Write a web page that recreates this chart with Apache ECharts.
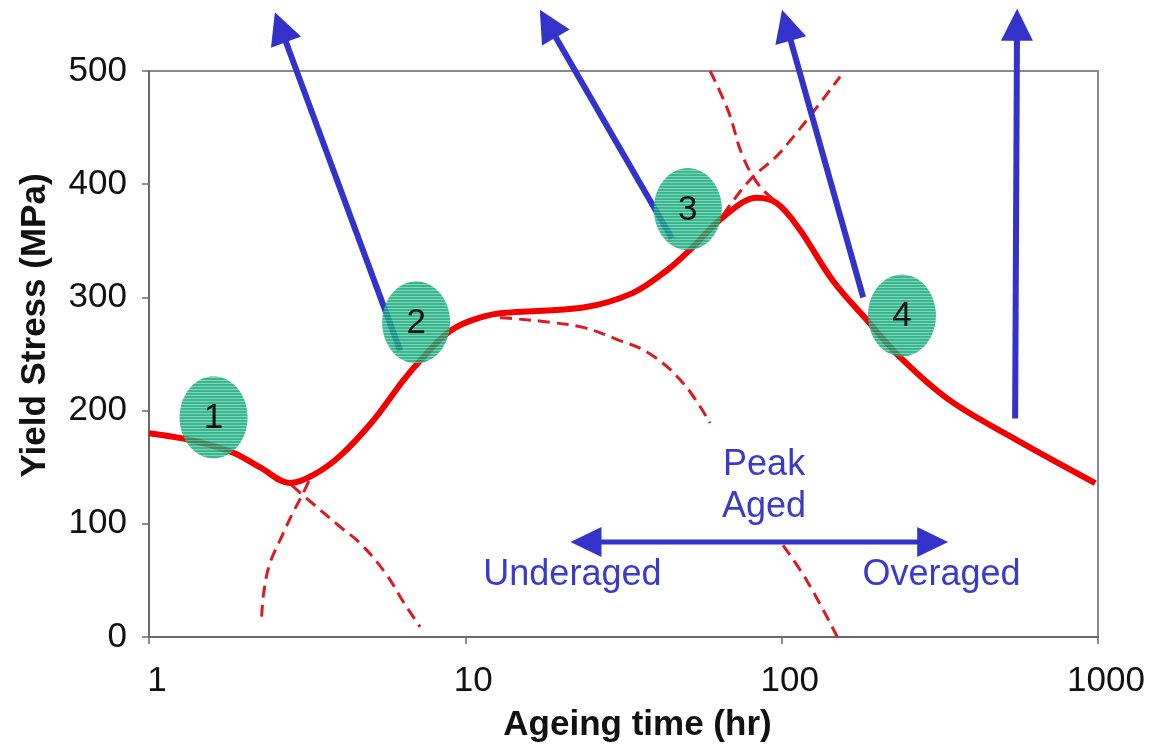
<!DOCTYPE html>
<html><head><meta charset="utf-8">
<script src="https://cdn.jsdelivr.net/npm/echarts@6/dist/echarts.min.js"></script>
<style>html,body{margin:0;padding:0;background:#fff}#c{width:1150px;height:752px}</style>
</head><body><div id="c"></div>
<script>
// ---- data ----
const xTickLabels = ['1', '10', '100', '1000'];
const yTickValues = [0, 100, 200, 300, 400, 500];

const solidX = [1.0, 1.35, 1.84, 2.24, 2.79, 3.30, 4.02, 5.11, 6.34, 7.19, 8.73, 10.3, 12.9, 23.6, 33.9, 43.4, 51.3, 65.3, 83.6, 96.7, 114, 145, 186, 237, 340, 554, 980];
const solidY = [180, 174, 163, 150, 136, 143, 160, 191, 226, 244, 268, 279, 286, 291, 304, 324, 342, 371, 388, 383, 360, 315, 280, 247, 209, 174, 136];

const dashRiseX = [2.27, 2.31, 2.41, 2.60, 2.83, 3.07, 3.27];
const dashRiseY = [18, 41, 65, 86, 108, 127, 143];
const dashFallX = [2.83, 3.15, 4.02, 4.64, 5.56, 6.43, 7.19];
const dashFallY = [134, 122.5, 97.4, 83, 57.4, 29.2, 9];
const dashMidX = [12.87, 14.54, 18.53, 23.55, 30.1, 38.4, 48.9, 59.4];
const dashMidY = [282, 281, 278, 273.5, 263, 250, 224, 189];
const dashUpX = [65.3, 79.5, 98.9, 153];
const dashUpY = [373, 404, 428, 495];
const dashOverTopX = [59.4, 67.7, 75.5, 85.4, 98.9];
const dashOverTopY = [500, 465, 424, 398, 382];
const dashOverLowX = [101, 120, 150];
const dashOverLowY = [81, 50, 0];

const ellipseX = [1.60, 6.99, 50.5, 240];
const ellipseY = [194, 278, 378, 284];
const ellipseLabels = ['1', '2', '3', '4'];

const arrowTailX = [6.22, 45.0, 181, 547];
const arrowTailY = [253, 352, 300, 193];
const arrowTipX = [2.50, 17.2, 100.3, 555];
const arrowTipY = [552, 554, 554, 555];

const rangeArrowX = [21.5, 336];
const rangeArrowY = [84, 84];

const noteTexts = ['Peak\nAged', 'Underaged', 'Overaged'];
const noteX = [88, 21.8, 320];
const noteY = [133, 55, 55];

// ---- helpers ----
const FONT = '"Liberation Sans", Arial, Helvetica, sans-serif';
const zip = (xs, ys) => xs.map((x, i) => [x, ys[i]]);
const BLUE = '#3333cc';

function stripePattern() {
  const c = document.createElement('canvas');
  c.width = 6; c.height = 3;
  const g = c.getContext('2d');
  g.fillStyle = '#0fa878'; g.fillRect(0, 0, 6, 2);
  g.fillStyle = '#62cca8'; g.fillRect(0, 2, 6, 1);
  return c;
}
const PATTERN = { image: stripePattern(), repeat: 'repeat' };

function arrowShapes(p1, p2, L, W, lw, both) {
  const dx = p2[0] - p1[0], dy = p2[1] - p1[1];
  const len = Math.sqrt(dx * dx + dy * dy);
  const ux = dx / len, uy = dy / len, px = -uy, py = ux;
  const head = (tip, sx) => {
    const bx = tip[0] - sx * ux * L, by = tip[1] - sx * uy * L;
    return { type: 'polygon', shape: { points: [[tip[0], tip[1]], [bx + px * W, by + py * W], [bx - px * W, by - py * W]] }, style: { fill: BLUE } };
  };
  const s = both ? [p1[0] + ux * (L - 2), p1[1] + uy * (L - 2)] : p1;
  const e = [p2[0] - ux * (L - 2), p2[1] - uy * (L - 2)];
  const kids = [{ type: 'line', shape: { x1: s[0], y1: s[1], x2: e[0], y2: e[1] }, style: { stroke: BLUE, lineWidth: lw } }, head(p2, 1)];
  if (both) kids.push(head(p1, -1));
  return { type: 'group', children: kids };
}

function ellipseShape(c, rx, ry, label) {
  const pts = [];
  for (let k = 0; k < 72; k++) {
    const a = k / 72 * Math.PI * 2;
    pts.push([c[0] + rx * Math.cos(a), c[1] + ry * Math.sin(a)]);
  }
  return { type: 'group', children: [
    { type: 'polygon', shape: { points: pts }, style: { fill: PATTERN, opacity: 0.82 } },
    { type: 'text', x: c[0], y: c[1] + 1, style: { text: label, fill: '#111', fontSize: 35, fontFamily: FONT, align: 'center', verticalAlign: 'middle' } }
  ] };
}

const dashStyle = { color: '#dd1a24', width: 3, type: [12, 7] };
function dashSeries(xs, ys) {
  return { type: 'line', data: zip(xs, ys), smooth: 0.4, showSymbol: false, symbol: 'none', z: 2, lineStyle: dashStyle, silent: true };
}

const chart = echarts.init(document.getElementById('c'));
chart.setOption({
  animation: false,
  backgroundColor: '#fff',
  grid: { left: 149, right: 52, top: 71, bottom: 115, show: true, borderColor: '#8a8a8a', borderWidth: 2 },
  xAxis: {
    type: 'log', logBase: 10, min: 1, max: 1000,
    name: 'Ageing time (hr)', nameLocation: 'middle', nameGap: 71,
    nameTextStyle: { fontSize: 35, fontWeight: 'bold', color: '#111', fontFamily: FONT, padding: [0, 0, 0, 28] },
    axisLine: { show: true, lineStyle: { color: '#6a6a6a', width: 2 } },
    axisTick: { show: true, length: 7, lineStyle: { color: '#6a6a6a', width: 1.5 } },
    minorTick: { show: false }, splitLine: { show: false }, minorSplitLine: { show: false },
    axisLabel: { fontSize: 35, color: '#111', fontFamily: FONT, margin: 27, padding: [0, 0, 0, 16],
      formatter: v => xTickLabels[Math.round(Math.log10(v))] }
  },
  yAxis: {
    type: 'value', min: yTickValues[0], max: yTickValues[yTickValues.length - 1], interval: 100,
    name: 'Yield Stress (MPa)', nameLocation: 'middle', nameGap: 96, nameRotate: 90,
    nameTextStyle: { fontSize: 35, fontWeight: 'bold', color: '#111', fontFamily: FONT, padding: [0, 0, 0, 57] },
    axisLine: { show: true, lineStyle: { color: '#6a6a6a', width: 2 } },
    axisTick: { show: true, length: 7, lineStyle: { color: '#6a6a6a', width: 1.5 } },
    splitLine: { show: false },
    axisLabel: { fontSize: 35, color: '#111', fontFamily: FONT, margin: 22 }
  },
  series: [
    { type: 'line', data: zip(solidX, solidY), smooth: 0.35, showSymbol: false, symbol: 'none', z: 2,
      lineStyle: { color: '#f20000', width: 6 }, silent: true },
    dashSeries(dashRiseX, dashRiseY),
    dashSeries(dashFallX, dashFallY),
    dashSeries(dashMidX, dashMidY),
    dashSeries(dashUpX, dashUpY),
    dashSeries(dashOverTopX, dashOverTopY),
    dashSeries(dashOverLowX, dashOverLowY),
    { type: 'custom', z: 3, silent: true, clip: false,
      data: arrowTailX.map((x, i) => [x, arrowTailY[i], arrowTipX[i], arrowTipY[i]]),
      renderItem: (params, api) => arrowShapes(api.coord([api.value(0), api.value(1)]), api.coord([api.value(2), api.value(3)]), 32, 16, 6, false) },
    { type: 'custom', z: 3, silent: true, clip: false,
      data: [[rangeArrowX[0], rangeArrowY[0], rangeArrowX[1], rangeArrowY[1]]],
      renderItem: (params, api) => arrowShapes(api.coord([api.value(0), api.value(1)]), api.coord([api.value(2), api.value(3)]), 31, 15, 5, true) },
    { type: 'custom', z: 4, silent: true, clip: false,
      data: ellipseX.map((x, i) => [x, ellipseY[i], i]),
      renderItem: (params, api) => ellipseShape(api.coord([api.value(0), api.value(1)]), 34, 41, ellipseLabels[api.value(2)]) },
    { type: 'custom', z: 5, silent: true, clip: false,
      data: noteX.map((x, i) => [x, noteY[i], i]),
      renderItem: (params, api) => {
        const p = api.coord([api.value(0), api.value(1)]);
        return { type: 'text', x: p[0], y: p[1], style: { text: noteTexts[api.value(2)], fill: '#3a3acb', fontSize: 36, fontFamily: FONT, align: 'center', verticalAlign: 'middle', lineHeight: 42 } };
      } }
  ]
});
</script>
</body></html>
